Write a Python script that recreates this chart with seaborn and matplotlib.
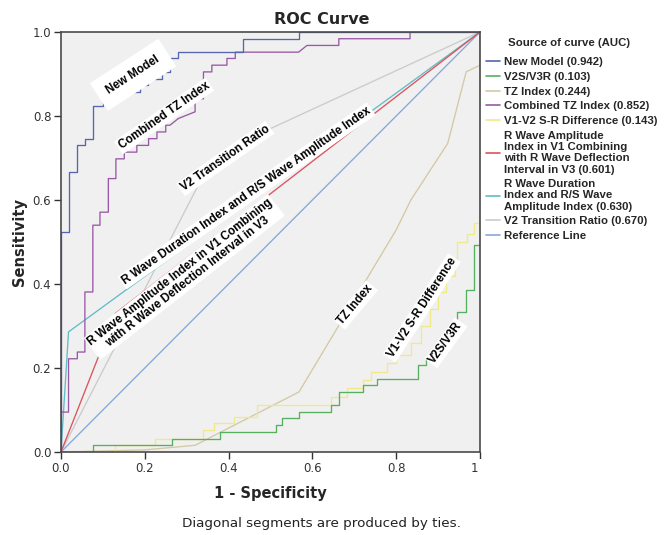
import matplotlib
matplotlib.use("Agg")
import matplotlib.pyplot as plt
import seaborn as sns
import pandas as pd
from matplotlib.lines import Line2D
from matplotlib.patches import Rectangle

sns.set_theme(style="white")
plt.rcParams["font.family"] = ["DejaVu Sans"]

# ---------------- data ----------------
new_model_fpr = [0, 0, 0.019, 0.019, 0.039, 0.039, 0.057, 0.057, 0.076, 0.076, 0.10, 0.10, 0.13, 0.13,
                 0.189, 0.189, 0.207, 0.207, 0.24, 0.24, 0.26, 0.26, 0.28, 0.28, 0.435, 0.435, 0.569, 0.569, 1.0]
new_model_tpr = [0, 0.524, 0.524, 0.667, 0.667, 0.730, 0.730, 0.746, 0.746, 0.825, 0.825, 0.841, 0.841, 0.857,
                 0.857, 0.873, 0.873, 0.889, 0.889, 0.905, 0.905, 0.937, 0.937, 0.952, 0.952, 0.984, 0.984, 1.0, 1.0]

v2s_fpr = [0, 0.076, 0.076, 0.265, 0.265, 0.38, 0.38, 0.512, 0.512, 0.528, 0.528, 0.568, 0.568, 0.644, 0.644,
           0.663, 0.663, 0.72, 0.72, 0.755, 0.755, 0.851, 0.851, 0.871, 0.871, 0.89, 0.89, 0.91, 0.91, 0.93, 0.93,
           0.946, 0.946, 0.967, 0.967, 0.986, 0.986, 1.0, 1.0]
v2s_tpr = [0, 0, 0.016, 0.016, 0.032, 0.032, 0.048, 0.048, 0.064, 0.064, 0.080, 0.080, 0.095, 0.095, 0.111,
           0.111, 0.143, 0.143, 0.159, 0.159, 0.175, 0.175, 0.206, 0.206, 0.222, 0.222, 0.238, 0.238, 0.254,
           0.254, 0.286, 0.286, 0.334, 0.334, 0.386, 0.386, 0.493, 0.493, 1.0]

tz_fpr = [0, 0.2, 0.32, 0.568, 0.80, 0.835, 0.923, 0.967, 1.0, 1.0]
tz_tpr = [0, 0.005, 0.016, 0.143, 0.529, 0.60, 0.735, 0.905, 0.921, 1.0]

ctz_fpr = [0, 0, 0.018, 0.018, 0.039, 0.039, 0.057, 0.057, 0.076, 0.076, 0.093, 0.093, 0.113, 0.113, 0.131,
           0.131, 0.151, 0.151, 0.181, 0.181, 0.209, 0.209, 0.229, 0.229, 0.25, 0.25, 0.26, 0.28, 0.32, 0.32,
           0.34, 0.34, 0.36, 0.36, 0.396, 0.396, 0.416, 0.416, 0.567, 0.587, 0.663, 0.663, 0.833, 0.833, 1.0]
ctz_tpr = [0, 0.095, 0.095, 0.222, 0.222, 0.238, 0.238, 0.381, 0.381, 0.540, 0.540, 0.571, 0.571, 0.651, 0.651,
           0.698, 0.698, 0.714, 0.714, 0.730, 0.730, 0.746, 0.746, 0.762, 0.762, 0.778, 0.778, 0.794, 0.810, 0.841,
           0.841, 0.905, 0.905, 0.921, 0.921, 0.937, 0.937, 0.952, 0.952, 0.968, 0.968, 0.984, 0.984, 1.0, 1.0]

v1v2_fpr = [0, 0.129, 0.129, 0.225, 0.225, 0.34, 0.34, 0.364, 0.364, 0.412, 0.412, 0.468, 0.468, 0.644, 0.644,
            0.683, 0.683, 0.72, 0.72, 0.739, 0.739, 0.779, 0.779, 0.80, 0.80, 0.835, 0.835, 0.86, 0.86, 0.88, 0.88,
            0.90, 0.90, 0.92, 0.92, 0.94, 0.94, 0.946, 0.946, 0.97, 0.97, 0.986, 0.986, 1.0, 1.0]
v1v2_tpr = [0, 0, 0.016, 0.016, 0.032, 0.032, 0.052, 0.052, 0.068, 0.068, 0.084, 0.084, 0.111, 0.111, 0.132,
            0.132, 0.152, 0.152, 0.171, 0.171, 0.191, 0.191, 0.211, 0.211, 0.23, 0.23, 0.26, 0.26, 0.30, 0.30,
            0.34, 0.34, 0.38, 0.38, 0.42, 0.42, 0.46, 0.46, 0.50, 0.50, 0.52, 0.52, 0.545, 0.545, 1.0]

rwa_fpr = [0, 0.13, 1.0]
rwa_tpr = [0, 0.33, 1.0]

rwd_fpr = [0, 0.018, 1.0]
rwd_tpr = [0, 0.286, 1.0]

v2tr_fpr = [0, 0.33, 0.50, 1.0]
v2tr_tpr = [0, 0.64, 0.77, 1.0]

ref_fpr = [0, 1.0]
ref_tpr = [0, 1.0]

curve_names = ["New Model", "V2S/V3R", "TZ Index", "Combined TZ Index", "V1-V2 S-R Difference",
               "R Wave Amplitude Index", "R Wave Duration Index", "V2 Transition Ratio", "Reference Line"]
legend_labels = ["New Model (0.942)", "V2S/V3R (0.103)", "TZ Index (0.244)", "Combined TZ Index (0.852)",
                 "V1-V2 S-R Difference (0.143)",
                 "R Wave Amplitude\nIndex in V1 Combining\nwith R Wave Deflection\nInterval in V3 (0.601)",
                 "R Wave Duration\nIndex and R/S Wave\nAmplitude Index (0.630)",
                 "V2 Transition Ratio (0.670)", "Reference Line"]
curve_colors = ["#5565b0", "#55b060", "#d3c9a4", "#9a58a6", "#f0e98a", "#d9545e", "#62bcc4", "#cbcbcb", "#86a8d8"]

x_ticks = [0.0, 0.2, 0.4, 0.6, 0.8, 1.0]
x_tick_labels = ["0.0", "0.2", "0.4", "0.6", "0.8", "1.0"]
y_ticks = [0.0, 0.2, 0.4, 0.6, 0.8, 1.0]
y_tick_labels = ["0.0", "0.2", "0.4", "0.6", "0.8", "1.0"]

series = [(new_model_fpr, new_model_tpr), (v2s_fpr, v2s_tpr), (tz_fpr, tz_tpr), (ctz_fpr, ctz_tpr),
          (v1v2_fpr, v1v2_tpr), (rwa_fpr, rwa_tpr), (rwd_fpr, rwd_tpr), (v2tr_fpr, v2tr_tpr), (ref_fpr, ref_tpr)]

rows = []
for name, (fx, fy) in zip(curve_names, series):
    for i, (a, b) in enumerate(zip(fx, fy)):
        rows.append({"curve": name, "order": i, "fpr": a, "tpr": b})
df = pd.DataFrame(rows)

# ---------------- figure ----------------
fig = plt.figure(figsize=(6.64, 5.35), dpi=100)
W, H = 664, 535
ax = fig.add_axes([61 / W, 1 - 452 / H, 419 / W, 420 / H])
ax.set_facecolor("#f0f0f0")

draw_order = [8, 7, 2, 4, 1, 6, 5, 3, 0]
for idx in draw_order:
    name = curve_names[idx]
    sub = df[df["curve"] == name].sort_values("order")
    sns.lineplot(data=sub, x="fpr", y="tpr", sort=False, estimator=None, color=curve_colors[idx],
                 lw=0.95, ax=ax, legend=False)

ax.set_xlim(0, 1)
ax.set_ylim(0, 1)
ax.set_xticks(x_ticks)
ax.set_xticklabels(x_tick_labels)
ax.set_yticks(y_ticks)
ax.set_yticklabels(y_tick_labels)
ax.tick_params(axis="both", which="major", direction="out", length=5, width=1, color="#333333",
               labelsize=8.5, labelcolor="#333333", pad=2, bottom=True, left=True)
for s in ax.spines.values():
    s.set_color("#4a4a4a")
    s.set_linewidth(1.2)
ax.set_xlabel("1 - Specificity", fontsize=10.5, fontweight="bold", labelpad=8)
ax.set_ylabel("Sensitivity", fontsize=10.5, fontweight="bold", labelpad=4)

fig.text(322 / W, 1 - 19 / H, "ROC Curve", ha="center", va="center", fontsize=11.5, fontweight="bold")
fig.text(322 / W, 1 - 523 / H, "Diagonal segments are produced by ties.", ha="center", va="center",
         fontsize=9.7, color="#222222")

# in-plot curve labels
lab_font = dict(family=["Liberation Sans", "DejaVu Sans"], fontweight="bold", fontsize=8.4, color="black")
labels_in_plot = [
    ("New Model", 0.172, 0.898, 33, 0.9),
    ("Combined TZ Index", 0.246, 0.800, 35, 0.15),
    ("V2 Transition Ratio", 0.392, 0.699, 35, 0.15),
    ("R Wave Duration Index and R/S Wave Amplitude Index", 0.443, 0.610, 35, 0.15),
    ("R Wave Amplitude Index in V1 Combining\nwith R Wave Deflection Interval in V3", 0.294, 0.417, 38, 0.15),
    ("TZ Index", 0.703, 0.350, 50, 0.15),
    ("V1-V2 S-R Difference", 0.861, 0.343, 57, 0.15),
    ("V2S/V3R", 0.919, 0.260, 54, 0.15),
]
for txt, x, y, rot, pad in labels_in_plot:
    ax.text(x, y, txt, rotation=rot, rotation_mode="anchor", ha="center", va="center",
            linespacing=1.0, multialignment="center",
            bbox=dict(boxstyle=f"square,pad={pad}", fc="white", ec="none"), zorder=5, **lab_font)

# white panel on the right (covers the tail of the last tick label as in the reference)
fig.patches.append(Rectangle((478.3 / W, 0), 1 - 478.3 / W, 1 - 458.5 / H, transform=fig.transFigure,
                             facecolor="white", edgecolor="none", zorder=3))

# legend
handles = [Line2D([0], [0], color=c, lw=1.2) for c in curve_colors]
fig.text(508 / W, 1 - 43 / H, "Source of curve (AUC)", ha="left", va="center", fontsize=8.2,
         fontweight="bold", family=["Liberation Sans", "DejaVu Sans"], zorder=6)
leg = fig.legend(handles, legend_labels, loc="upper left", bbox_to_anchor=(486 / W, 1 - 57 / H),
                 frameon=False, handlelength=1.2, handletextpad=0.4, labelspacing=0.42, borderpad=0,
                 borderaxespad=0, prop=dict(family=["Liberation Sans", "DejaVu Sans"], weight="bold", size=8.2))
leg.set_zorder(6)
for t in leg.get_texts():
    t.set_linespacing(1.15)

fig.savefig("out.png", dpi=100)
